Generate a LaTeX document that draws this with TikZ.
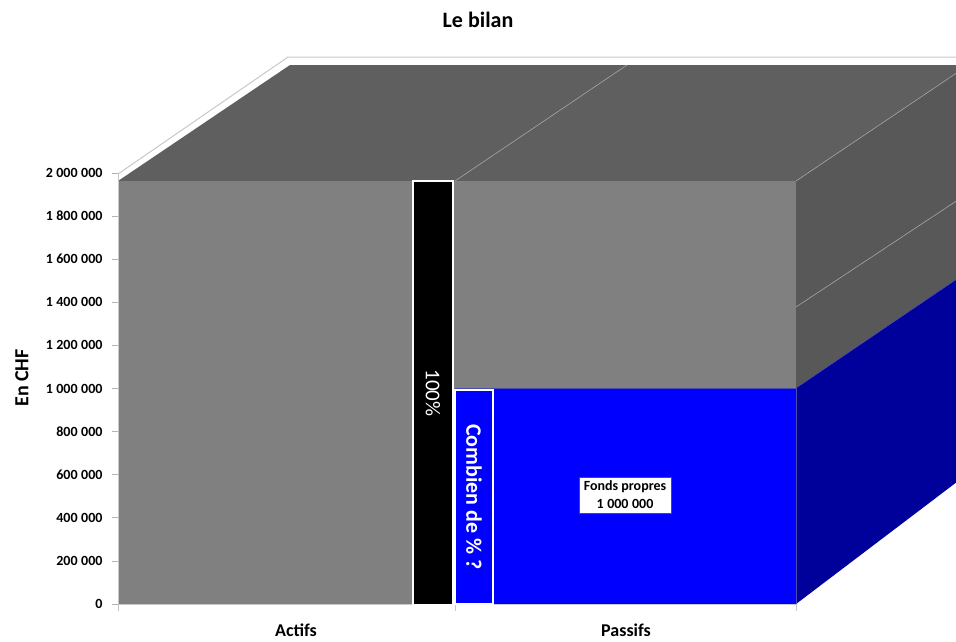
\documentclass[tikz,border=0pt]{standalone}
\usepackage{fontspec}
\setmainfont{Carlito}
\usetikzlibrary{positioning}

\definecolor{frontgray}{RGB}{128,128,128}
\definecolor{topgray}{RGB}{95,95,95}
\definecolor{sidegray}{RGB}{88,88,88}
\definecolor{frontblue}{RGB}{0,0,255}
\definecolor{sideblue}{RGB}{0,0,155}
\definecolor{wallline}{RGB}{200,200,200}

\newcommand{\gap}{\hspace{0.25em}}

\begin{document}
\begin{tikzpicture}[x=1pt,y=-1pt,
		every node/.style={font=\bfseries},
		ticklabel/.style={anchor=east,font=\bfseries\fontsize{14}{16}\selectfont},
		catlabel/.style={font=\bfseries\fontsize{18}{21}\selectfont},
		tagbox/.style={draw=white,line width=1.2pt,inner sep=0pt,text=white},
		edgeline/.style={draw=gray!70,line width=0.6pt}]
		\useasboundingbox (0,0) rectangle (956,641);
		\clip (0,0) rectangle (956,641);

		% wall edge
		\draw[wallline,line width=1pt] (118,174) -- (288,57) -- (960,57);

		% top and side faces
		\fill[topgray] (118,181) -- (290,65) -- (970,65) -- (796,181) -- cycle;
		\fill[sidegray] (796,181) -- (970,64) -- (970,270) -- (796,388) -- cycle;
		\fill[sideblue] (796,388) -- (970,270) -- (970,472) -- (796,604) -- cycle;
		\draw[edgeline] (455,181) -- (627,65);
		\draw[edgeline] (796,181) -- (970,64);
		\draw[edgeline] (796,307) -- (970,192);
		\draw[draw=gray!60!blue,line width=0.6pt] (796,388) -- (970,270);

		% front faces
		\fill[frontgray] (118,181) rectangle (455,604);
		\fill[frontgray] (455,181) rectangle (796,388);
		\fill[frontblue] (455,388) rectangle (796,604);
		\draw[draw=gray!60!blue,line width=0.6pt] (455,388) -- (796,388) -- (796,604) -- (455,604);

		% axes
		\draw[wallline,line width=0.8pt] (118,174) -- (118,611);
		\draw[wallline,line width=0.8pt] (118,604) -- (796,604);
		\foreach \x in {455,796}
			\draw[wallline,line width=0.8pt] (\x,604) -- (\x,611);
		\foreach \v/\t in {0/0,1/200\gap000,2/400\gap000,3/600\gap000,4/800\gap000,5/1\gap000\gap000,
				6/1\gap200\gap000,7/1\gap400\gap000,8/1\gap600\gap000,9/1\gap800\gap000,10/2\gap000\gap000} {
			\draw[gray!60,line width=0.8pt] (112,604-\v*43.1) -- (118,604-\v*43.1);
			\node[ticklabel] (tick\v) at (106,604-\v*43.1) {\t};
		}

		% boxes
		\node[tagbox,fill=black,minimum width=40pt,minimum height=424pt] (total) at (433,393)
			{\rotatebox{-90}{\mdseries\fontsize{21}{24}\selectfont 100\%}};
		\node[tagbox,fill=frontblue,minimum width=38pt,minimum height=214pt] (question) at (474,497)
			{\rotatebox{-90}{\fontsize{22}{25}\selectfont Combien de \% ?}};
		\node[draw=gray!50!blue,fill=white,line width=0.6pt,align=center,inner xsep=5pt,inner ysep=4pt,
			font=\bfseries\fontsize{14}{18}\selectfont] (fonds) at (625,495) {Fonds propres\\1\gap000\gap000};

		% titles
		\node[font=\bfseries\fontsize{22}{25}\selectfont] (title) at (478,20) {Le bilan};
		\node[catlabel] (actifs) at (296,630) {Actifs};
		\node[catlabel] (passifs) at (626,630) {Passifs};
		\node[catlabel,font=\bfseries\fontsize{20}{23}\selectfont,rotate=90] (unit) at (22,378) {En CHF};
	\end{tikzpicture}
\end{document}
